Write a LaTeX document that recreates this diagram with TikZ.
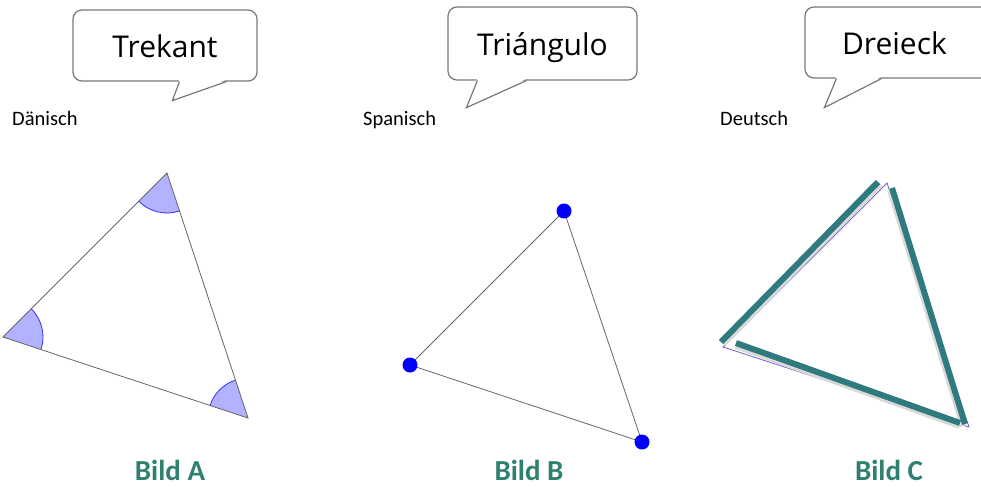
\documentclass[tikz,border=0pt]{standalone}
\usepackage{fontspec}
\setmainfont{Carlito}
\newfontfamily\speechfont{Open Sans}
\usetikzlibrary{calc}
\usetikzlibrary{angles}
\definecolor{bubbleline}{RGB}{120,120,120}
\definecolor{captionteal}{RGB}{47,128,112}
\definecolor{barteal}{RGB}{46,122,126}
\definecolor{wedgefill}{RGB}{178,178,255}
\definecolor{thinviolet}{RGB}{112,96,208}
\tikzset{bubble/.style={draw=#1,line width=1.2pt,rounded corners=9pt,fill=white,font=\speechfont\fontsize{30}{32}\selectfont,inner sep=0pt,text height=25pt,text depth=2pt},bubble/.default=bubbleline}
\tikzset{lang/.style={anchor=base west,inner sep=0pt,font=\fontsize{20.5}{22}\selectfont}}
\tikzset{caption/.style={color=#1,anchor=base,inner sep=0pt,font=\bfseries\fontsize{29}{31}\selectfont},caption/.default=captionteal}
\tikzset{edge/.style={color=#1,line width=0.8pt},edge/.default=gray!80!black}
\tikzset{wedge/.style={draw=blue!80,fill=wedgefill,line width=0.8pt,angle radius=40pt}}
\tikzset{dot/.style={fill=#1},dot/.default=blue}
\tikzset{bar/.style={color=#1,line width=6pt},bar/.default=barteal}

\begin{document}
\begin{tikzpicture}[x=1pt,y=-1pt]
		\useasboundingbox (0,0) rectangle (981,491);

		\node [bubble,minimum width=184pt,minimum height=71pt] (wordA) at (165,45.5) {Trekant};
		\fill [white] ($(wordA.south west)+(107,-2)$) -- ($(wordA.south west)+(100,19)$) -- ($(wordA.south west)+(154,-2)$) -- cycle;
		\draw [bubbleline,line width=1.2pt,line join=miter]
			($(wordA.south west)+(107,0)$) -- ($(wordA.south west)+(100,19)$) -- ($(wordA.south west)+(154,0)$);

		\node [bubble,minimum width=189pt,minimum height=73pt] (wordB) at (542.5,43.5) {Triángulo};
		\fill [white] ($(wordB.south west)+(30,-2)$) -- ($(wordB.south west)+(19,27)$) -- ($(wordB.south west)+(79,-2)$) -- cycle;
		\draw [bubbleline,line width=1.2pt,line join=miter]
			($(wordB.south west)+(30,0)$) -- ($(wordB.south west)+(19,27)$) -- ($(wordB.south west)+(79,0)$);

		\node [bubble,minimum width=190pt,minimum height=71pt,text width=190pt,align=left] (wordC) at (900,42.5) {\hspace*{37pt}Dreieck};
		\fill [white] ($(wordC.south west)+(32,-2)$) -- ($(wordC.south west)+(20,29)$) -- ($(wordC.south west)+(77,-2)$) -- cycle;
		\draw [bubbleline,line width=1.2pt,line join=miter]
			($(wordC.south west)+(32,0)$) -- ($(wordC.south west)+(20,29)$) -- ($(wordC.south west)+(77,0)$);

		\node [lang] (langA) at (12,125) {Dänisch};
		\node [lang] (langB) at (363,125) {Spanisch};
		\node [lang] (langC) at (720,125) {Deutsch};

		\coordinate (A1) at (167,173);
		\coordinate (A2) at (3,337);
		\coordinate (A3) at (248,418);
		\pic [wedge] {angle=A2--A1--A3};
		\pic [wedge] {angle=A3--A2--A1};
		\pic [wedge] {angle=A1--A3--A2};
		\draw [edge] (A1) -- (A2) -- (A3) -- cycle;

		\coordinate (B1) at (564,211);
		\coordinate (B2) at (410,365);
		\coordinate (B3) at (642,442);
		\draw [edge] (B1) -- (B2) -- (B3) -- cycle;
		\foreach \v in {B1,B2,B3}
			\fill [dot] (\v) circle (7.5);

		\coordinate (C1) at (887,183);
		\coordinate (C2) at (723,347);
		\coordinate (C3) at (969,427);
		\draw [thinviolet,line width=0.8pt] (C1) -- (C2) -- (C3) -- cycle;
		\coordinate (L1) at (878,182);
		\coordinate (L2) at (721,342);
		\coordinate (R1) at (892,188);
		\coordinate (R2) at (965,424);
		\coordinate (U1) at (736,343);
		\coordinate (U2) at (960,423);
		\draw [bar=gray!30] ($(L1)+(2,2)$) -- ($(L2)+(2,2)$);
		\draw [bar=gray!30] ($(R1)+(-2,2)$) -- ($(R2)+(-2,2)$);
		\draw [bar=gray!30] ($(U1)+(0,3)$) -- ($(U2)+(0,3)$);
		\draw [bar] (L1) -- (L2);
		\draw [bar] (R1) -- (R2);
		\draw [bar] (U1) -- (U2);

		\node [caption] (capA) at (170,480) {Bild A};
		\node [caption] (capB) at (529,480) {Bild B};
		\node [caption] (capC) at (889,480) {Bild C};
	\end{tikzpicture}
\end{document}
